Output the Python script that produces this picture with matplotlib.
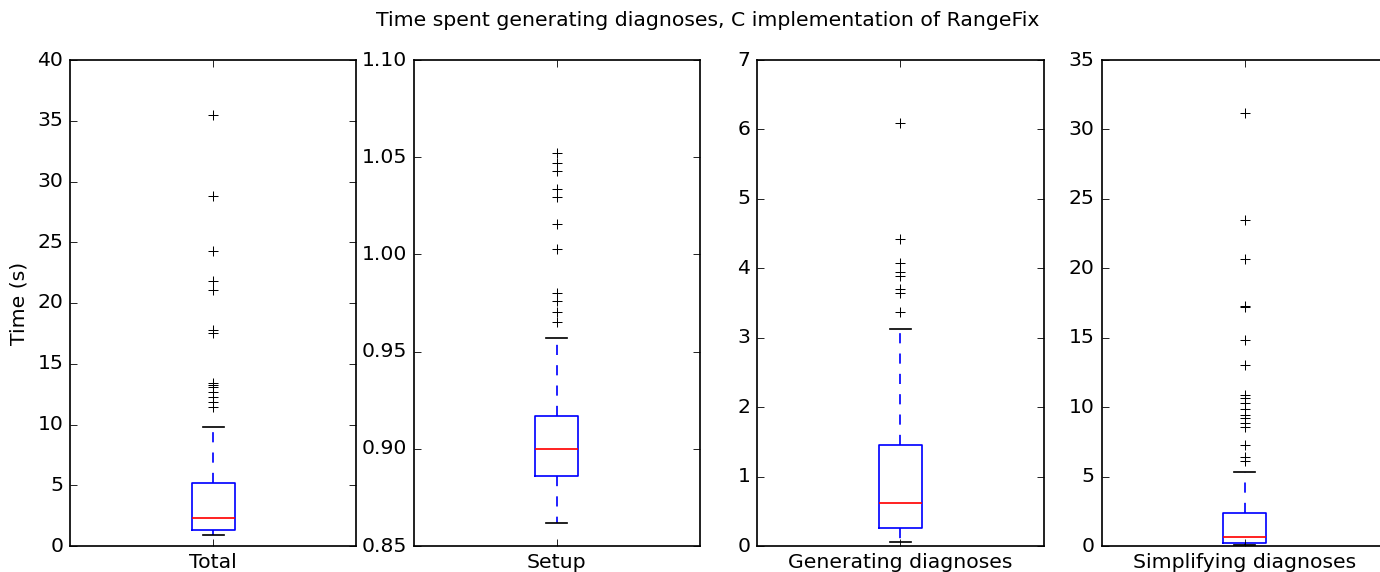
import matplotlib
matplotlib.use("Agg")
import matplotlib.pyplot as plt

# values (seconds)
labels = ["Total", "Setup", "Generating diagnoses", "Simplifying diagnoses"]

whisker_low = [0.9, 0.862, 0.058, 0.05]
quartile_1 = [1.32, 0.886, 0.26, 0.19]
medians = [2.33, 0.900, 0.62, 0.62]
quartile_3 = [5.21, 0.917, 1.46, 2.40]
whisker_high = [9.77, 0.957, 3.12, 5.31]

outliers_total = [35.5, 28.8, 24.25, 21.8, 21.1, 17.8, 17.56, 13.44, 13.28,
                  13.1, 12.7, 12.24, 11.83, 11.41]
outliers_setup = [1.0523, 1.0472, 1.0431, 1.0335, 1.0297, 1.0156, 1.0028,
                  0.980, 0.9762, 0.9705, 0.9651]
outliers_generating = [6.09, 4.42, 4.07, 3.94, 3.89, 3.70, 3.64, 3.37]
outliers_simplifying = [31.2, 23.48, 20.64, 17.28, 17.19, 14.83, 13.01, 10.87,
                        10.63, 10.28, 9.84, 9.43, 9.20, 8.88, 8.59, 7.27, 6.43,
                        6.14]
outliers = [outliers_total, outliers_setup, outliers_generating,
            outliers_simplifying]

y_limits = [(0, 40), (0.85, 1.10), (0, 7), (0, 35)]

plt.style.use("classic")
DPI = 122
W, H = 1380.0, 572.0
fig = plt.figure(figsize=(W / DPI, H / DPI), dpi=DPI, facecolor="white")

lefts = [70, 413.5, 757, 1101.5]
ax_w = 286.5
bottom = 546
top = 60

for i, label in enumerate(labels):
    ax = fig.add_axes([lefts[i] / W, 1 - bottom / H, ax_w / W,
                       (bottom - top) / H])
    stats = [{
        "label": label,
        "whislo": whisker_low[i],
        "q1": quartile_1[i],
        "med": medians[i],
        "q3": quartile_3[i],
        "whishi": whisker_high[i],
        "fliers": outliers[i],
    }]
    ax.bxp(stats, widths=0.15, showfliers=True,
           flierprops=dict(marker="+", markeredgecolor="black",
                           markeredgewidth=0.6, markersize=6))
    ax.set_ylim(*y_limits[i])
    ax.set_xlim(0.5, 1.5)
    ax.tick_params(labelsize=12)
    if i == 1:
        ax.set_yticks([0.85, 0.90, 0.95, 1.00, 1.05, 1.10])
        ax.set_yticklabels(["0.85", "0.90", "0.95", "1.00", "1.05", "1.10"])
    if i == 0:
        ax.set_ylabel("Time (s)", fontsize=12)

fig.suptitle("Time spent generating diagnoses, C implementation of RangeFix",
             fontsize=12, x=707.5 / W, y=1 - 20 / H, va="center")

fig.savefig("out.png", dpi=DPI, facecolor="white")
